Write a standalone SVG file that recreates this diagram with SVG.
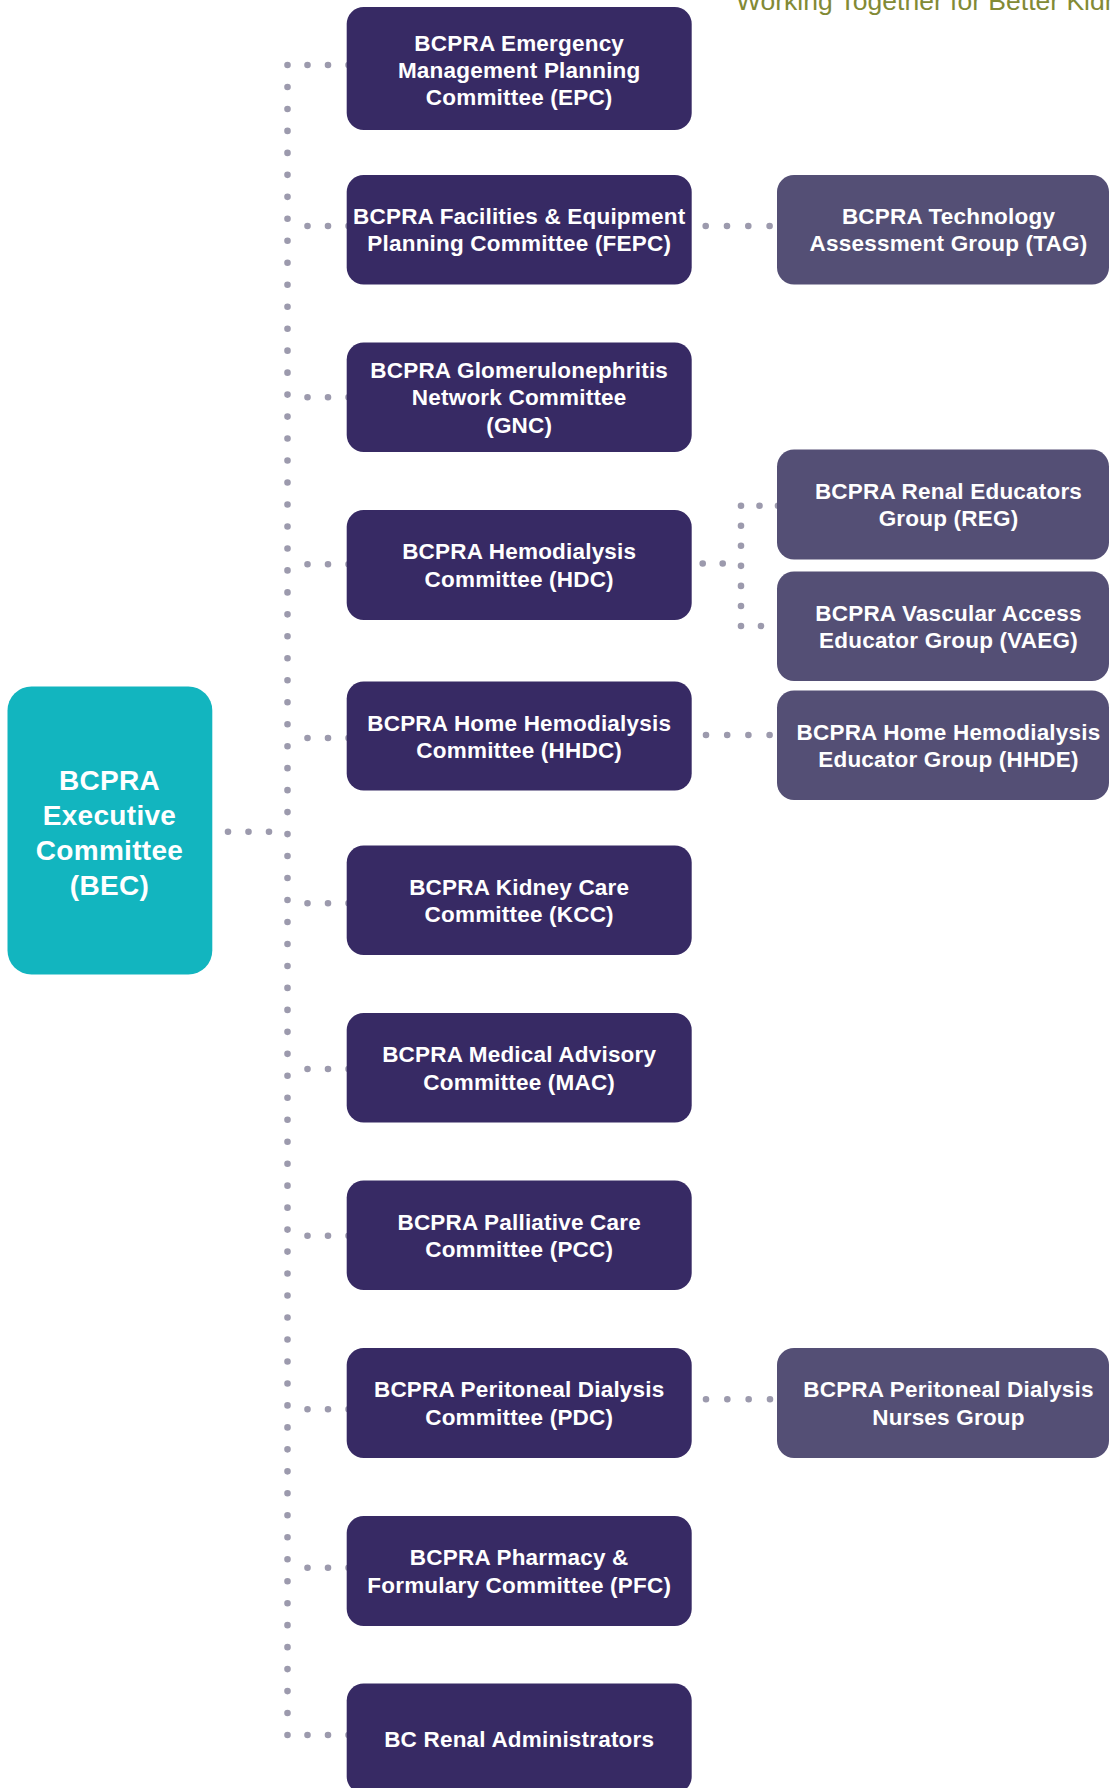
<svg xmlns="http://www.w3.org/2000/svg" width="1112" height="1788" viewBox="0 0 1112 1788">
<style>
.main{fill:#372A64}
.sub{fill:#544F75}
.bec{fill:#12B5BF}
.t{font-family:"Liberation Sans",Arial,Helvetica,sans-serif;font-weight:bold;font-size:22.5px;letter-spacing:0.2px;fill:#FFFFFF;text-anchor:middle}
.tb{font-family:"Liberation Sans",Arial,Helvetica,sans-serif;font-weight:bold;font-size:28px;letter-spacing:0.3px;fill:#FFFFFF;text-anchor:middle}
.dot{stroke:#9C9AAD;stroke-width:6.6;stroke-linecap:round;fill:none}
.tag{font-family:"Liberation Sans",Arial,Helvetica,sans-serif;font-size:26.5px;fill:#828A35}
</style>
<rect width="1112" height="1788" fill="#FFFFFF"/>
<text class="tag" x="736" y="9.5">Working Together for Better Kidney Care</text>
<g id="connectors">
<line class="dot" x1="287.5" y1="65" x2="287.5" y2="1735.5" stroke-dasharray="0 21.974"/>
<line class="dot" x1="228" y1="831.7" x2="269.5" y2="831.7" stroke-dasharray="0 20.5"/>
<line class="dot" x1="307.5" y1="65" x2="349" y2="65" stroke-dasharray="0 20.5"/>
<line class="dot" x1="307.5" y1="226" x2="349" y2="226" stroke-dasharray="0 20.5"/>
<line class="dot" x1="307.5" y1="397.3" x2="349" y2="397.3" stroke-dasharray="0 20.5"/>
<line class="dot" x1="307.5" y1="564.3" x2="349" y2="564.3" stroke-dasharray="0 20.5"/>
<line class="dot" x1="307.5" y1="738" x2="349" y2="738" stroke-dasharray="0 20.5"/>
<line class="dot" x1="307.5" y1="903.3" x2="349" y2="903.3" stroke-dasharray="0 20.5"/>
<line class="dot" x1="307.5" y1="1069" x2="349" y2="1069" stroke-dasharray="0 20.5"/>
<line class="dot" x1="307.5" y1="1235.7" x2="349" y2="1235.7" stroke-dasharray="0 20.5"/>
<line class="dot" x1="307.5" y1="1409.3" x2="349" y2="1409.3" stroke-dasharray="0 20.5"/>
<line class="dot" x1="307.5" y1="1567.7" x2="349" y2="1567.7" stroke-dasharray="0 20.5"/>
<line class="dot" x1="307.5" y1="1735" x2="349" y2="1735" stroke-dasharray="0 20.5"/>
<line class="dot" x1="705.7" y1="226" x2="770.1" y2="226" stroke-dasharray="0 21.3"/>
<line class="dot" x1="702.7" y1="563.5" x2="723.2" y2="563.5" stroke-dasharray="0 20"/>
<line class="dot" x1="741" y1="505.7" x2="741" y2="626.5" stroke-dasharray="0 20.05"/>
<line class="dot" x1="759.5" y1="505.7" x2="778.5" y2="505.7" stroke-dasharray="0 18.5"/>
<line class="dot" x1="761" y1="626" x2="761.5" y2="626" stroke-dasharray="0 20"/>
<line class="dot" x1="706" y1="735" x2="770.1" y2="735" stroke-dasharray="0 21.2"/>
<line class="dot" x1="706" y1="1399.3" x2="770.5" y2="1399.3" stroke-dasharray="0 21.33"/>
</g>
<g id="bec"><rect class="bec" x="7.5" y="686.5" width="204.8" height="288" rx="24"/>
<text class="tb" x="109.5" y="790">BCPRA</text><text class="tb" x="109.5" y="825">Executive</text><text class="tb" x="109.5" y="860">Committee</text><text class="tb" x="109.5" y="895">(BEC)</text></g>
<g id="epc"><rect class="main" x="346.7" y="7" width="345" height="123" rx="17"/>
<text class="t" x="519.2" y="50.5">BCPRA Emergency</text><text class="t" x="519.2" y="77.5">Management Planning</text><text class="t" x="519.2" y="104.5">Committee (EPC)</text></g>
<g id="fepc"><rect class="main" x="346.7" y="175" width="345" height="109.5" rx="17"/>
<text class="t" x="519.2" y="223.5">BCPRA Facilities &amp; Equipment</text><text class="t" x="519.2" y="251">Planning Committee (FEPC)</text></g>
<g id="gnc"><rect class="main" x="346.7" y="342.5" width="345" height="109.5" rx="17"/>
<text class="t" x="519.2" y="377.5">BCPRA Glomerulonephritis</text><text class="t" x="519.2" y="405">Network Committee</text><text class="t" x="519.2" y="432.5">(GNC)</text></g>
<g id="hdc"><rect class="main" x="346.7" y="510" width="345" height="110" rx="17"/>
<text class="t" x="519.2" y="559">BCPRA Hemodialysis</text><text class="t" x="519.2" y="586.5">Committee (HDC)</text></g>
<g id="hhdc"><rect class="main" x="346.7" y="681.5" width="345" height="109" rx="17"/>
<text class="t" x="519.2" y="730.5">BCPRA Home Hemodialysis</text><text class="t" x="519.2" y="758">Committee (HHDC)</text></g>
<g id="kcc"><rect class="main" x="346.7" y="845.5" width="345" height="109.5" rx="17"/>
<text class="t" x="519.2" y="894.5">BCPRA Kidney Care</text><text class="t" x="519.2" y="922">Committee (KCC)</text></g>
<g id="mac"><rect class="main" x="346.7" y="1013" width="345" height="109.5" rx="17"/>
<text class="t" x="519.2" y="1062">BCPRA Medical Advisory</text><text class="t" x="519.2" y="1089.5">Committee (MAC)</text></g>
<g id="pcc"><rect class="main" x="346.7" y="1180.5" width="345" height="109.5" rx="17"/>
<text class="t" x="519.2" y="1229.5">BCPRA Palliative Care</text><text class="t" x="519.2" y="1257">Committee (PCC)</text></g>
<g id="pdc"><rect class="main" x="346.7" y="1348" width="345" height="110" rx="17"/>
<text class="t" x="519.2" y="1397">BCPRA Peritoneal Dialysis</text><text class="t" x="519.2" y="1424.5">Committee (PDC)</text></g>
<g id="pfc"><rect class="main" x="346.7" y="1516" width="345" height="110" rx="17"/>
<text class="t" x="519.2" y="1565">BCPRA Pharmacy &amp;</text><text class="t" x="519.2" y="1592.5">Formulary Committee (PFC)</text></g>
<g id="bcra"><rect class="main" x="346.7" y="1683.5" width="345" height="110" rx="17"/>
<text class="t" x="519.2" y="1746.5">BC Renal Administrators</text></g>
<g id="tag"><rect class="sub" x="777" y="175" width="332" height="109.5" rx="17"/>
<text class="t" x="948.5" y="223.5">BCPRA Technology</text><text class="t" x="948.5" y="251">Assessment Group (TAG)</text></g>
<g id="reg"><rect class="sub" x="777" y="449.5" width="332" height="110" rx="17"/>
<text class="t" x="948.5" y="498.5">BCPRA Renal Educators</text><text class="t" x="948.5" y="526">Group (REG)</text></g>
<g id="vaeg"><rect class="sub" x="777" y="571.5" width="332" height="109.5" rx="17"/>
<text class="t" x="948.5" y="620.5">BCPRA Vascular Access</text><text class="t" x="948.5" y="648">Educator Group (VAEG)</text></g>
<g id="hhde"><rect class="sub" x="777" y="690.5" width="332" height="109.5" rx="17"/>
<text class="t" x="948.5" y="739.5">BCPRA Home Hemodialysis</text><text class="t" x="948.5" y="767">Educator Group (HHDE)</text></g>
<g id="pdn"><rect class="sub" x="777" y="1348" width="332" height="110" rx="17"/>
<text class="t" x="948.5" y="1397">BCPRA Peritoneal Dialysis</text><text class="t" x="948.5" y="1424.5">Nurses Group</text></g>
</svg>
